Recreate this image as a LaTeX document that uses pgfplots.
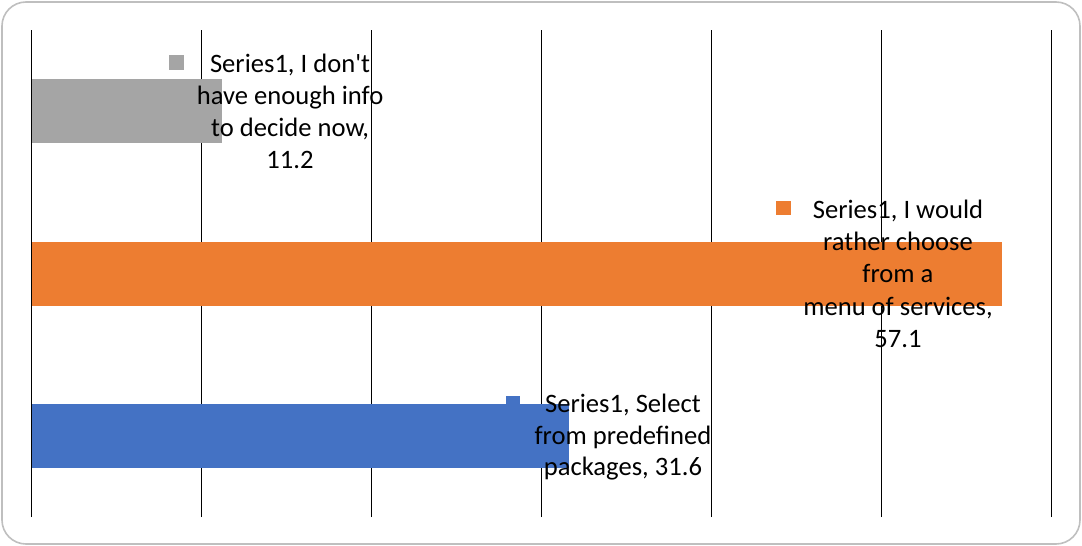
\documentclass[border=0pt]{standalone}
\usepackage{pgfplots}
\pgfplotsset{compat=1.18}
\usepackage{fontspec}
\setmainfont{Carlito}
\definecolor{cgray}{HTML}{A5A5A5}
\definecolor{corange}{HTML}{ED7D31}
\definecolor{cblue}{HTML}{4472C4}
\definecolor{cframe}{HTML}{BFBFBF}
\newcommand{\sq}[2][12.5pt]{\llap{\textcolor{#2}{\raisebox{1.3pt}{\rule{7.3pt}{7.3pt}}}\hspace{#1}}}
\begin{document}
\begin{tikzpicture}
\useasboundingbox (0,0) rectangle (541pt,-273pt);
\draw[cframe, line width=0.8pt, rounded corners=12pt] (1pt,-1pt) rectangle (540pt,-272pt);
\begin{axis}[
  at={(15.75pt,-258.5pt)}, anchor=south west,
  scale only axis, width=510pt, height=243.5pt,
  xmin=0, xmax=60, ymin=-0.5, ymax=2.5,
  xtick={0,10,...,60}, xticklabels={}, ytick=\empty,
  major tick length=0pt,
  xmajorgrids, major grid style={black, line width=0.7pt},
  axis line style={draw=none},
  clip=false,
]
\addplot[xbar, bar shift=0pt, bar width=32pt, fill=cblue, draw=none] coordinates {(31.6,0)};
\addplot[xbar, bar shift=0pt, bar width=32pt, fill=corange, draw=none] coordinates {(57.1,1)};
\addplot[xbar, bar shift=0pt, bar width=32pt, fill=cgray, draw=none] coordinates {(11.2,2)};
\node[anchor=base, align=center, inner sep=0pt, font=\fontsize{13.3pt}{16pt}\selectfont] at (axis cs:15.21,1.648)
  {\sq[13pt]{cgray}Series1, I don\textquotesingle t\\have enough info\\to decide now,\\11.2};
\node[anchor=base, align=center, inner sep=0pt, font=\fontsize{13.3pt}{16.2pt}\selectfont] at (axis cs:50.97,0.543)
  {\sq[11pt]{corange}Series1, I would\\rather choose\\from a\\menu of services,\\57.1};
\node[anchor=base, align=center, inner sep=0pt, font=\fontsize{13.3pt}{15.8pt}\selectfont] at (axis cs:34.79,-0.247)
  {\sq[12.5pt]{cblue}Series1, Select\\from predefined\\packages, 31.6};
\end{axis}
\end{tikzpicture}
\end{document}
